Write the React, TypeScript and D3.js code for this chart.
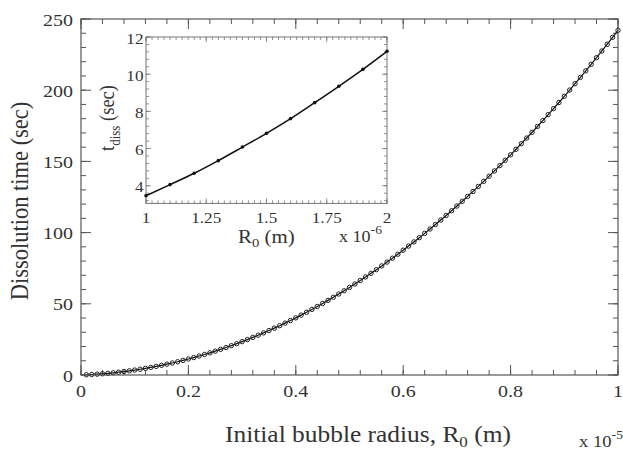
import React from "react";
import * as d3 from "d3";

// Main plot: initial radius (x 1e-5 m) vs dissolution time (sec)
const radii: number[] = [
  0.01, 0.02, 0.03, 0.04, 0.05, 0.06, 0.07, 0.08, 0.09, 0.1,
  0.11, 0.12, 0.13, 0.14, 0.15, 0.16, 0.17, 0.18, 0.19, 0.2,
  0.21, 0.22, 0.23, 0.24, 0.25, 0.26, 0.27, 0.28, 0.29, 0.3,
  0.31, 0.32, 0.33, 0.34, 0.35, 0.36, 0.37, 0.38, 0.39, 0.4,
  0.41, 0.42, 0.43, 0.44, 0.45, 0.46, 0.47, 0.48, 0.49, 0.5,
  0.51, 0.52, 0.53, 0.54, 0.55, 0.56, 0.57, 0.58, 0.59, 0.6,
  0.61, 0.62, 0.63, 0.64, 0.65, 0.66, 0.67, 0.68, 0.69, 0.7,
  0.71, 0.72, 0.73, 0.74, 0.75, 0.76, 0.77, 0.78, 0.79, 0.8,
  0.81, 0.82, 0.83, 0.84, 0.85, 0.86, 0.87, 0.88, 0.89, 0.9,
  0.91, 0.92, 0.93, 0.94, 0.95, 0.96, 0.97, 0.98, 0.99, 1.0,
];
const times: number[] = [
  0.16, 0.35, 0.59, 0.87, 1.2, 1.56, 1.97, 2.43, 2.92, 3.46,
  4.04, 4.66, 5.33, 6.04, 6.8, 7.59, 8.44, 9.32, 10.25, 11.23,
  12.24, 13.31, 14.41, 15.56, 16.76, 18.0, 19.29, 20.62, 21.99, 23.42,
  24.88, 26.39, 27.95, 29.56, 31.2, 32.9, 34.64, 36.43, 38.26, 40.14,
  42.07, 44.04, 46.06, 48.13, 50.24, 52.4, 54.61, 56.86, 59.16, 61.51,
  63.91, 66.35, 68.85, 71.39, 73.98, 76.61, 79.3, 82.03, 84.81, 87.64,
  90.52, 93.45, 96.43, 99.45, 102.53, 105.65, 108.83, 112.05, 115.32, 118.65,
  122.02, 125.44, 128.91, 132.43, 136.01, 139.63, 143.3, 147.03, 150.8, 154.63,
  158.51, 162.44, 166.41, 170.45, 174.53, 178.66, 182.85, 187.08, 191.37, 195.71,
  200.1, 204.55, 209.04, 213.59, 218.19, 222.85, 227.55, 232.31, 237.13, 242.0,
];
const mainXTicks: number[] = [0, 0.2, 0.4, 0.6, 0.8, 1];
const mainYTicks: number[] = [0, 50, 100, 150, 200, 250];

// Inset: radius (x 1e-6 m) vs t_diss (sec)
const insetRadii: number[] = [1.0, 1.1, 1.2, 1.3, 1.4, 1.5, 1.6, 1.7, 1.8, 1.9, 2.0];
const insetTimes: number[] = [3.46, 4.06, 4.67, 5.35, 6.08, 6.82, 7.61, 8.47, 9.35, 10.26, 11.23];
const insetXTicks: number[] = [1, 1.25, 1.5, 1.75, 2];
const insetYTicks: number[] = [4, 6, 8, 10, 12];

const FONT = "Liberation Serif, DejaVu Serif, serif";
const AXIS = "#555";
const TEXT = "#333";
const SX = 1.13; // horizontal stretch of the reference typography

function fmt(v: number): string {
  return String(+v.toFixed(2));
}

function range(a: number, b: number, step: number): number[] {
  const out: number[] = [];
  const n = Math.round((b - a) / step);
  for (let i = 0; i <= n; i++) out.push(+(a + i * step).toFixed(6));
  return out;
}

type TProps = {
  x: number;
  y: number;
  size: number;
  anchor?: "start" | "middle" | "end";
  rotate?: boolean;
  children?: React.ReactNode;
};

function T({ x, y, size, anchor = "start", rotate = false, children }: TProps) {
  const tr = `translate(${x},${y}) scale(${SX},1)` + (rotate ? " rotate(-90)" : "");
  return (
    <text transform={tr} fontSize={size} textAnchor={anchor} fill={TEXT} fontFamily={FONT}>
      {children}
    </text>
  );
}

export default function App() {
  // main scales
  const x = d3.scaleLinear().domain([0, 1]).range([81, 618]);
  const y = d3.scaleLinear().domain([0, 250]).range([375, 19]);
  const [x0, x1] = x.range();
  const [yb, yt] = y.range();

  const line = d3
    .line<number>()
    .x((_, i) => x(radii[i]))
    .y((d) => y(d));

  const xMinor = range(0, 1, 0.04);
  const yMinor = range(0, 250, 10);

  // inset scales
  const ix = d3.scaleLinear().domain([1, 2]).range([146, 387]);
  const iy = d3.scaleLinear().domain([3.05, 12]).range([203.4, 37]);
  const [ix0, ix1] = ix.range();
  const [iyb, iyt] = iy.range();
  const iline = d3
    .line<number>()
    .x((_, i) => ix(insetRadii[i]))
    .y((d) => iy(d))
    .curve(d3.curveMonotoneX);
  const ixMinor = range(1, 2, 0.025);
  const iyMinor = range(3.2, 12, 0.4);

  return (
    <svg
      width={623}
      height={451}
      style={{ position: "fixed", left: 0, top: 0, background: "#fff", fontFamily: FONT }}
    >
      <rect x={0} y={0} width={623} height={451} fill="#fff" />

      {/* main ticks */}
      <g stroke={AXIS} strokeWidth={1}>
        {xMinor.map((v) => (
          <g key={"xm" + v}>
            <line x1={x(v)} x2={x(v)} y1={yb} y2={yb - 5} />
            <line x1={x(v)} x2={x(v)} y1={yt} y2={yt + 5} />
          </g>
        ))}
        {mainXTicks.map((v) => (
          <g key={"xM" + v}>
            <line x1={x(v)} x2={x(v)} y1={yb} y2={yb - 10} />
            <line x1={x(v)} x2={x(v)} y1={yt} y2={yt + 10} />
          </g>
        ))}
        {yMinor.map((v) => (
          <g key={"ym" + v}>
            <line x1={x0} x2={x0 + 5} y1={y(v)} y2={y(v)} />
            <line x1={x1} x2={x1 - 5} y1={y(v)} y2={y(v)} />
          </g>
        ))}
        {mainYTicks.map((v) => (
          <g key={"yM" + v}>
            <line x1={x0} x2={x0 + 10} y1={y(v)} y2={y(v)} />
            <line x1={x1} x2={x1 - 10} y1={y(v)} y2={y(v)} />
          </g>
        ))}
      </g>

      {/* main data */}
      <path d={line(times) || ""} fill="none" stroke="#111" strokeWidth={1.2} />
      <g fill="none" stroke="#222" strokeWidth={1}>
        {times.map((t, i) => (
          <circle key={"p" + i} cx={x(radii[i])} cy={y(t)} r={2.2} />
        ))}
      </g>

      <rect x={x0} y={yt} width={x1 - x0} height={yb - yt} fill="none" stroke={AXIS} strokeWidth={1.2} />

      {/* main tick labels */}
      {mainXTicks.map((v) => (
        <T key={"xl" + v} x={x(v)} y={397} size={17.7} anchor="middle">
          {fmt(v)}
        </T>
      ))}
      {mainYTicks.map((v) => (
        <T key={"yl" + v} x={73} y={y(v) + 6.5} size={17.7} anchor="end">
          {fmt(v)}
        </T>
      ))}
      <T x={579} y={446.5} size={16.5}>
        x 10
        <tspan dy={-8} fontSize={12}>-5</tspan>
      </T>
      <T x={225} y={441.5} size={22.5}>
        Initial bubble radius, R
        <tspan dy={5} fontSize={15}>0</tspan>
        <tspan dy={-5}> (m)</tspan>
      </T>
      <T x={27.5} y={201} size={22.5} anchor="middle" rotate>
        Dissolution time (sec)
      </T>

      {/* inset */}
      <rect x={ix0} y={iyt} width={ix1 - ix0} height={iyb - iyt} fill="#fff" />
      <g stroke="#777" strokeWidth={0.8}>
        {ixMinor.map((v) => (
          <g key={"ixm" + v}>
            <line x1={ix(v)} x2={ix(v)} y1={iyb} y2={iyb - 3} />
            <line x1={ix(v)} x2={ix(v)} y1={iyt} y2={iyt + 3} />
          </g>
        ))}
        {insetXTicks.map((v) => (
          <g key={"ixM" + v}>
            <line x1={ix(v)} x2={ix(v)} y1={iyb} y2={iyb - 5} />
            <line x1={ix(v)} x2={ix(v)} y1={iyt} y2={iyt + 5} />
          </g>
        ))}
        {iyMinor.map((v) => (
          <g key={"iym" + v}>
            <line x1={ix0} x2={ix0 + 3} y1={iy(v)} y2={iy(v)} />
            <line x1={ix1} x2={ix1 - 3} y1={iy(v)} y2={iy(v)} />
          </g>
        ))}
        {insetYTicks.map((v) => (
          <g key={"iyM" + v}>
            <line x1={ix0} x2={ix0 + 5} y1={iy(v)} y2={iy(v)} />
            <line x1={ix1} x2={ix1 - 5} y1={iy(v)} y2={iy(v)} />
          </g>
        ))}
      </g>
      <rect x={ix0} y={iyt} width={ix1 - ix0} height={iyb - iyt} fill="none" stroke="#777" strokeWidth={1} />
      <path d={iline(insetTimes) || ""} fill="none" stroke="#111" strokeWidth={1.5} />
      <g fill="#111">
        {insetTimes.map((t, i) => (
          <circle key={"ip" + i} cx={ix(insetRadii[i])} cy={iy(t)} r={1.8} />
        ))}
      </g>
      {insetXTicks.map((v) => (
        <T key={"ixl" + v} x={ix(v)} y={223.3} size={15.2} anchor="middle">
          {fmt(v)}
        </T>
      ))}
      {insetYTicks.map((v) => (
        <T key={"iyl" + v} x={143.5} y={iy(v) + 6.5} size={15.2} anchor="end">
          {fmt(v)}
        </T>
      ))}
      <T x={238} y={242.5} size={18.5}>
        R
        <tspan dy={4} fontSize={13}>0</tspan>
        <tspan dy={-4}> (m)</tspan>
      </T>
      <T x={339} y={241.7} size={16}>
        x 10
        <tspan dy={-8} fontSize={12}>-6</tspan>
      </T>
      <T x={114} y={118} size={18.5} anchor="middle" rotate>
        t
        <tspan dy={5} fontSize={13}>diss</tspan>
        <tspan dy={-5}> (sec)</tspan>
      </T>
    </svg>
  );
}
